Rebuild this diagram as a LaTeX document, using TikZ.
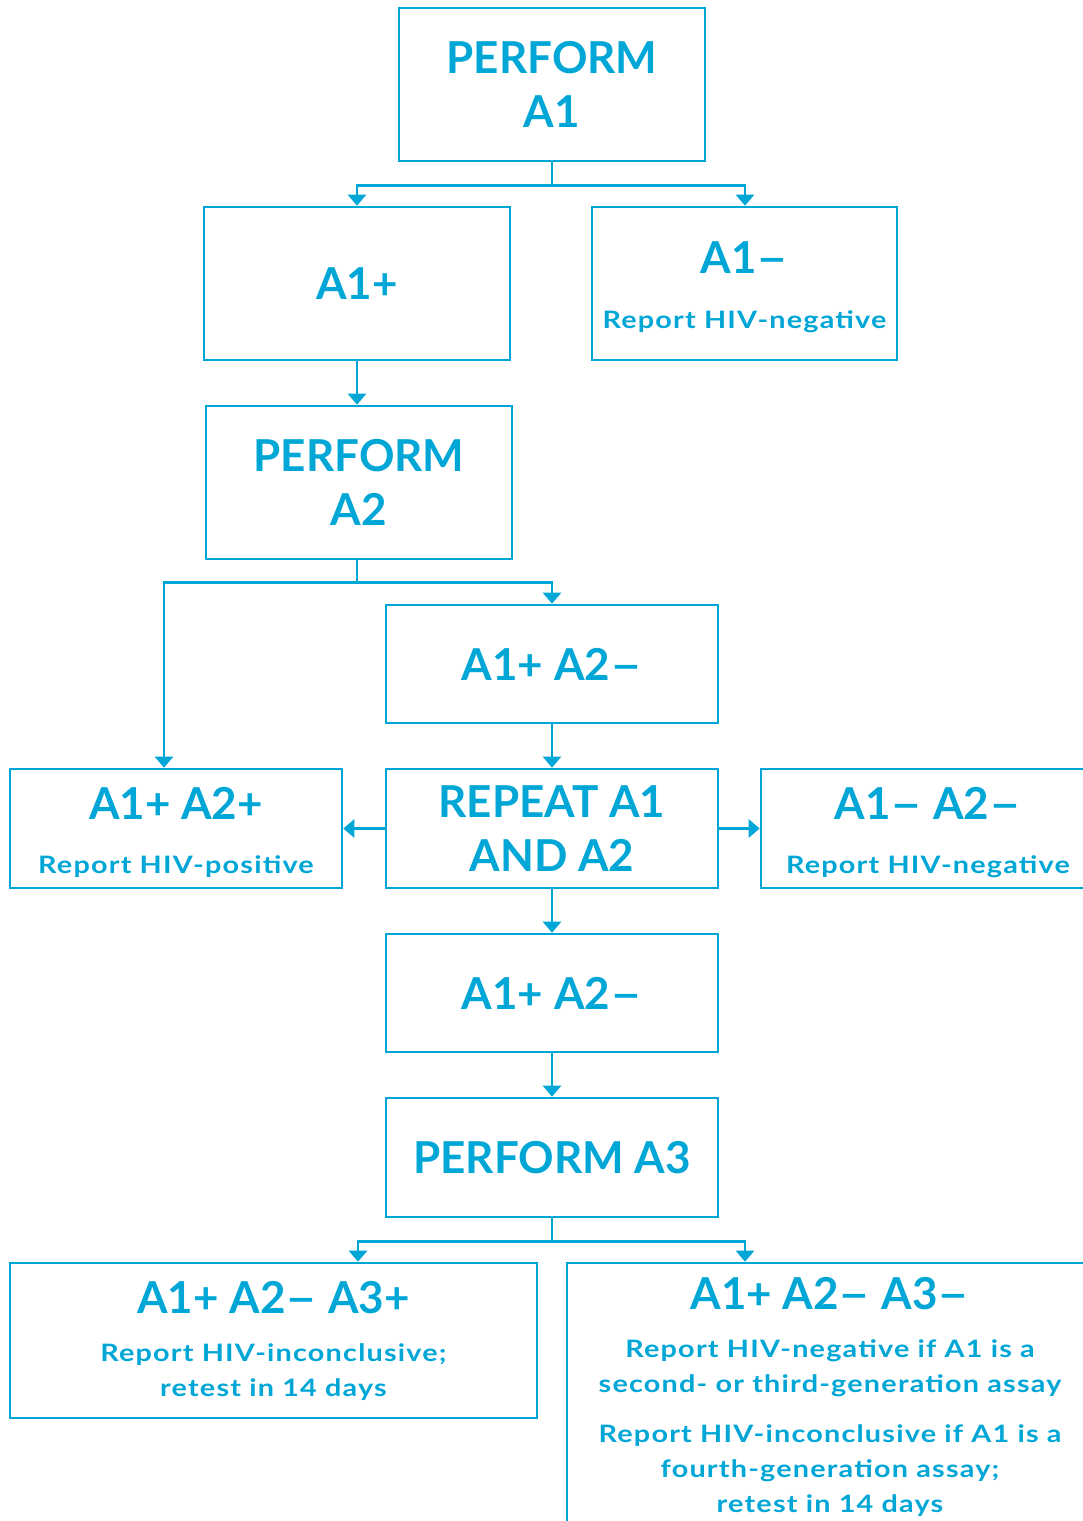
\documentclass[tikz,border=0pt]{standalone}
\usepackage{fontspec}
\usepackage{graphicx}
\setmainfont{Lato}
\newfontfamily\subfam{Lato}[FakeStretch=1.2, LetterSpace=5]
\usetikzlibrary{arrows.meta}
\definecolor{hiv}{RGB}{0,166,214}
\newcommand\HeadFont{\rmfamily\fontsize{44}{54}\selectfont\bfseries}
\newcommand\SubFont{\subfam\fontsize{24}{35}\selectfont\bfseries}
\newcommand\Dsh{\scalebox{1.25}[1]{–}}
\tikzset{
  box/.style={draw=hiv, line width=2.6pt, inner sep=0pt, align=center, text=hiv},
  mixed/.style={font=\SubFont},
  txt/.style={inner sep=0pt, align=center, text=hiv},
  ln/.style={draw=hiv, line width=2.6pt},
  conn/.style={draw=hiv, line width=2.6pt, -{Triangle[width=18pt,length=11pt]}},
}
\begin{document}
\begin{tikzpicture}[x=1pt,y=-1pt]
\useasboundingbox (0,0) rectangle (1082,1521);
\node[box, font=\HeadFont, minimum width=306, minimum height=153] (pa1) at (552,84.5) {PERFORM\\A1};
\node[box, font=\HeadFont, minimum width=306, minimum height=153] (ap) at (357,283.5) {A1+};
\node[box, mixed, minimum width=305, minimum height=153] (an) at (744.5,283.5) {\rule{0pt}{40pt}\HeadFont A1\Dsh\\[20pt]\SubFont Report HIV-negative};
\node[box, font=\HeadFont, minimum width=306, minimum height=153] (pa2) at (359,482.5) {PERFORM\\A2};
\node[box, font=\HeadFont, minimum width=332, minimum height=118] (m1) at (552,664) {A1+ A2\Dsh};
\node[box, mixed, minimum width=332, minimum height=119] (pp) at (176,828.5) {\rule{0pt}{40pt}\HeadFont A1+ A2+\\[19pt]\SubFont Report HIV-positive};
\node[box, font=\HeadFont, minimum width=332, minimum height=119] (rep) at (552,828.5) {REPEAT A1\\AND A2};
\node[box, mixed, minimum width=334, minimum height=119] (nn) at (928,828.5) {\rule{0pt}{40pt}\HeadFont A1\Dsh{} A2\Dsh\\[19pt]\SubFont Report HIV-negative};
\node[box, font=\HeadFont, minimum width=332, minimum height=118] (m2) at (552,993) {A1+ A2\Dsh};
\node[box, font=\HeadFont, minimum width=332, minimum height=119] (pa3) at (552,1157.5) {PERFORM A3};
\node[box, mixed, minimum width=527, minimum height=155] (a3p) at (273.5,1340.5) {\HeadFont A1+ A2\Dsh{} A3+\\[13pt]\SubFont Report HIV-inconclusive;\\\SubFont retest in 14 days};
\node[box, minimum width=526, minimum height=317] (a3n) at (830,1421.5) {};
\node[txt, mixed, anchor=north] (a3nt) at (830,1277) {\HeadFont A1+ A2\Dsh{} A3\Dsh\\[13pt]\SubFont Report HIV-negative if A1 is a\\\SubFont second- or third-generation assay\\[15pt]\SubFont Report HIV-inconclusive if A1 is a\\\SubFont fourth-generation assay;\\\SubFont retest in 14 days};
% connectors
\draw[ln] (pa1.south) -- ++(0,23) coordinate (j1);
\draw[conn] (j1) -| (ap.north);
\draw[conn] (j1) -| ([xshift=0.5pt]an.north);
\draw[conn] (ap.south) -- (pa2.north -| ap.south);
\draw[ln] (pa2.south -| ap.south) -- ++(0,22) coordinate (j2);
\draw[conn] (j2) -| (m1.north);
\draw[conn] (j2) -| ([xshift=-12pt]pp.north);
\draw[conn] (m1.south) -- (rep.north);
\draw[conn] (rep.west) -- (pp.east);
\draw[conn] (rep.east) -- (nn.west);
\draw[conn] (rep.south) -- (m2.north);
\draw[conn] (m2.south) -- (pa3.north);
\draw[ln] (pa3.south) -- ++(0,23) coordinate (j3);
\draw[conn] (j3) -| ([xshift=84.5pt]a3p.north);
\draw[conn] (j3) -| ([xshift=-85pt]a3n.north);
\end{tikzpicture}
\end{document}
